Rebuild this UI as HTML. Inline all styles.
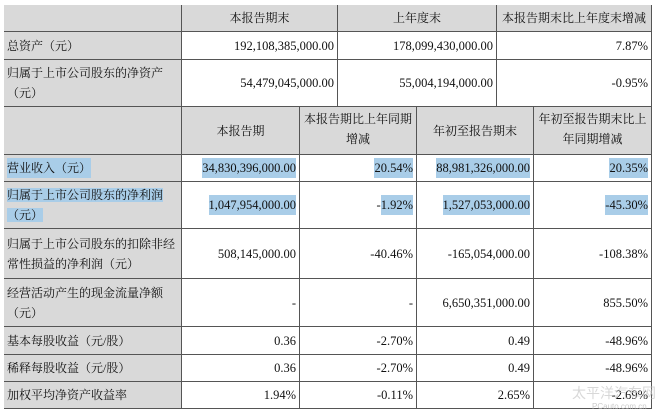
<!DOCTYPE html>
<html><head><meta charset="utf-8">
<style>
body{margin:0;width:660px;height:417px;background:#fff;position:relative;overflow:hidden;font-family:"Liberation Serif","Noto Serif CJK SC","Noto Sans CJK SC",serif;font-size:12px;color:#111}
.c{position:absolute;box-sizing:border-box;border-right:1px solid #555;border-bottom:1px solid #555;display:flex;align-items:center;padding:0 3px;line-height:20px;white-space:nowrap}
.g{background:#d9d9d9}
.w{background:#fff}
.h{justify-content:center;text-align:center}
.r{justify-content:flex-end;text-align:right;font-size:12.5px}
.l{justify-content:flex-start;text-align:left}
.hl{background:#a9cde8}
#frame{position:absolute;left:4px;top:5px;width:648px;height:404px;border-left:1px solid #555;border-top:1px solid #555;box-sizing:border-box;pointer-events:none}
</style></head><body>
<div id="frame"></div>
<div class="c g" style="left:4px;top:5px;width:178px;height:27px"></div>
<div class="c g h" style="left:182px;top:5px;width:156px;height:27px">本报告期末</div>
<div class="c g h" style="left:338px;top:5px;width:159px;height:27px">上年度末</div>
<div class="c g h" style="left:497px;top:5px;width:155px;height:27px;padding:0">本报告期末比上年度末增减</div>
<div class="c g l" style="left:4px;top:32px;width:178px;height:28px">总资产（元）</div>
<div class="c w r" style="left:182px;top:32px;width:156px;height:28px">192,108,385,000.00</div>
<div class="c w r" style="left:338px;top:32px;width:159px;height:28px">178,099,430,000.00</div>
<div class="c w r" style="left:497px;top:32px;width:155px;height:28px">7.87%</div>
<div class="c g l" style="left:4px;top:60px;width:178px;height:47px">归属于上市公司股东的净资产<br>（元）</div>
<div class="c w r" style="left:182px;top:60px;width:156px;height:47px">54,479,045,000.00</div>
<div class="c w r" style="left:338px;top:60px;width:159px;height:47px">55,004,194,000.00</div>
<div class="c w r" style="left:497px;top:60px;width:155px;height:47px">-0.95%</div>
<div class="c g" style="left:4px;top:107px;width:178px;height:48px"></div>
<div class="c g h" style="left:182px;top:107px;width:118px;height:48px">本报告期</div>
<div class="c g h" style="left:300px;top:107px;width:117px;height:48px;align-items:flex-start;padding:2px 0 0"><span>本报告期比上年同期<br>增减</span></div>
<div class="c g h" style="left:417px;top:107px;width:117px;height:48px">年初至报告期末</div>
<div class="c g h" style="left:534px;top:107px;width:118px;height:48px;align-items:flex-start;padding:2px 0 0"><span>年初至报告期末比上<br>年同期增减</span></div>
<div class="c g l" style="left:4px;top:155px;width:178px;height:27px"><span class="hl">营业收入（元）</span></div>
<div class="c w r" style="left:182px;top:155px;width:118px;height:27px"><span class="hl">34,830,396,000.00</span></div>
<div class="c w r" style="left:300px;top:155px;width:117px;height:27px"><span class="hl">20.54%</span></div>
<div class="c w r" style="left:417px;top:155px;width:117px;height:27px"><span class="hl">88,981,326,000.00</span></div>
<div class="c w r" style="left:534px;top:155px;width:118px;height:27px"><span class="hl">20.35%</span></div>
<div class="c g l" style="left:4px;top:182px;width:178px;height:47px"><span><span class="hl">归属于上市公司股东的净利润</span><br><span class="hl">（元）</span></span></div>
<div class="c w r" style="left:182px;top:182px;width:118px;height:47px"><span class="hl">1,047,954,000.00</span></div>
<div class="c w r" style="left:300px;top:182px;width:117px;height:47px">-<span class="hl">1.92%</span></div>
<div class="c w r" style="left:417px;top:182px;width:117px;height:47px"><span class="hl">1,527,053,000.00</span></div>
<div class="c w r" style="left:534px;top:182px;width:118px;height:47px"><span class="hl">-45.30%</span></div>
<div class="c g l" style="left:4px;top:229px;width:178px;height:50px">归属于上市公司股东的扣除非经<br>常性损益的净利润（元）</div>
<div class="c w r" style="left:182px;top:229px;width:118px;height:50px">508,145,000.00</div>
<div class="c w r" style="left:300px;top:229px;width:117px;height:50px">-40.46%</div>
<div class="c w r" style="left:417px;top:229px;width:117px;height:50px">-165,054,000.00</div>
<div class="c w r" style="left:534px;top:229px;width:118px;height:50px">-108.38%</div>
<div class="c g l" style="left:4px;top:279px;width:178px;height:48px">经营活动产生的现金流量净额<br>（元）</div>
<div class="c w r" style="left:182px;top:279px;width:118px;height:48px">-</div>
<div class="c w r" style="left:300px;top:279px;width:117px;height:48px">-</div>
<div class="c w r" style="left:417px;top:279px;width:117px;height:48px">6,650,351,000.00</div>
<div class="c w r" style="left:534px;top:279px;width:118px;height:48px">855.50%</div>
<div class="c g l" style="left:4px;top:327px;width:178px;height:28px">基本每股收益（元/股）</div>
<div class="c w r" style="left:182px;top:327px;width:118px;height:28px">0.36</div>
<div class="c w r" style="left:300px;top:327px;width:117px;height:28px">-2.70%</div>
<div class="c w r" style="left:417px;top:327px;width:117px;height:28px">0.49</div>
<div class="c w r" style="left:534px;top:327px;width:118px;height:28px">-48.96%</div>
<div class="c g l" style="left:4px;top:355px;width:178px;height:27px">稀释每股收益（元/股）</div>
<div class="c w r" style="left:182px;top:355px;width:118px;height:27px">0.36</div>
<div class="c w r" style="left:300px;top:355px;width:117px;height:27px">-2.70%</div>
<div class="c w r" style="left:417px;top:355px;width:117px;height:27px">0.49</div>
<div class="c w r" style="left:534px;top:355px;width:118px;height:27px">-48.96%</div>
<div class="c g l" style="left:4px;top:382px;width:178px;height:27px">加权平均净资产收益率</div>
<div class="c w r" style="left:182px;top:382px;width:118px;height:27px">1.94%</div>
<div class="c w r" style="left:300px;top:382px;width:117px;height:27px">-0.11%</div>
<div class="c w r" style="left:417px;top:382px;width:117px;height:27px">2.65%</div>
<div class="c w r" style="left:534px;top:382px;width:118px;height:27px">-2.69%</div>
<div style="position:absolute;left:572px;top:383px;white-space:nowrap;font-family:'Liberation Sans','Noto Sans CJK SC',sans-serif;font-size:14px;color:rgba(200,200,200,0.7)">太平洋汽车网</div>
<div style="position:absolute;left:592px;top:402px;white-space:nowrap;font-family:'Liberation Sans',sans-serif;font-size:8px;color:rgba(190,190,190,0.8)">PCauto.com.cn</div>
</body></html>
